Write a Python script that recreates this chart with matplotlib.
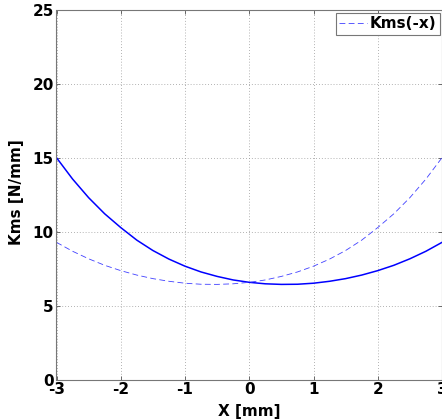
import matplotlib
matplotlib.use("Agg")
import matplotlib.pyplot as plt
import numpy as np

# X displacement [mm]
x_mm = [-3.0, -2.75, -2.5, -2.25, -2.0, -1.75, -1.5, -1.25, -1.0, -0.75, -0.5, -0.25,
        0.0, 0.25, 0.5, 0.75, 1.0, 1.25, 1.5, 1.75, 2.0, 2.25, 2.5, 2.75, 3.0]
# Kms(x) [N/mm]
kms_x = [15.04, 13.60, 12.34, 11.25, 10.32, 9.47, 8.77, 8.19, 7.71, 7.32, 7.02, 6.78,
         6.62, 6.52, 6.48, 6.49, 6.56, 6.69, 6.87, 7.11, 7.41, 7.77, 8.21, 8.72, 9.32]
# Kms(-x) [N/mm] (mirror of Kms(x))
kms_negx = kms_x[::-1]

xticks = [-3, -2, -1, 0, 1, 2, 3]
yticks = [0, 5, 10, 15, 20, 25]

plt.rcParams['font.family'] = ['DejaVu Sans']
plt.rcParams['font.weight'] = 'bold'
FS = 11

fig = plt.figure(figsize=(4.42, 4.19), dpi=100)
ax = fig.add_axes([56.5 / 442, 1 - 380.3 / 419, (442 - 56.5) / 442, (380.3 - 10.3) / 419])

ax.plot(x_mm, kms_x, color=(0, 0, 1), lw=1.1, label='Kms(x)')
ln, = ax.plot(x_mm, kms_negx, color=(0.25, 0.25, 1), lw=0.6, linestyle=(0, (7, 4)), label='Kms(-x)')

ax.set_xlim(-3, 3)
ax.set_ylim(0, 25)
ax.set_xticks(xticks)
ax.set_yticks(yticks)
ax.set_xticklabels([str(t) for t in xticks], fontsize=FS, fontweight='bold')
ax.set_yticklabels([str(t) for t in yticks], fontsize=FS, fontweight='bold')
ax.tick_params(direction='in', length=3, width=0.6, color='#555555', top=True, right=True,
               pad=1)
ax.tick_params(axis='y', pad=2)
for s in ax.spines.values():
    s.set_color('#777777')
    s.set_linewidth(0.8)
ax.grid(True, linestyle=(0, (1, 2.5)), color='#999999', lw=0.6)

ax.set_xlabel('X [mm]', fontsize=FS, fontweight='bold', va='center')
ax.xaxis.set_label_coords((249.5 - 56.5) / 385.5, (380.3 - 411) / 370)
ax.set_ylabel('Kms [N/mm]', fontsize=FS, fontweight='bold', va='center')
ax.yaxis.set_label_coords((17 - 56.5) / 385.5, (380.3 - 192) / 370)

leg = ax.legend(handles=[ln], loc='upper right', fontsize=FS, handlelength=1.8,
                handletextpad=0.15, borderpad=0.25, borderaxespad=0.15, fancybox=False,
                framealpha=1, edgecolor='#777777')
leg.get_frame().set_linewidth(0.8)
for t in leg.get_texts():
    t.set_fontweight('bold')

fig.savefig('out.png', dpi=100)
